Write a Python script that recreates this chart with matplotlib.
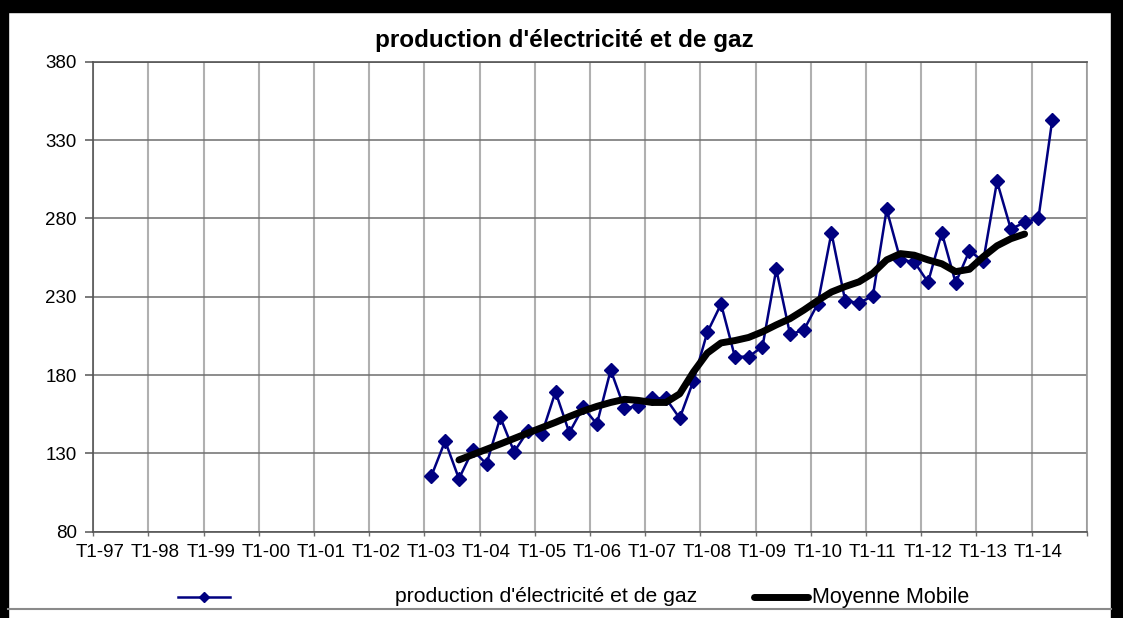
import matplotlib.pyplot as plt
from matplotlib.lines import Line2D
from matplotlib.patches import Rectangle

# axe trimestriel T1-97 ... T4-14
years = ["97", "98", "99", "00", "01", "02", "03", "04", "05", "06",
         "07", "08", "09", "10", "11", "12", "13", "14"]
tick_labels = ["T1-" + y for y in years]
n_quarters = 4 * len(years)

# production d'electricite et de gaz, a partir de T1-03 (indice 24)
prod_start = 24
production = [115.5, 137.9, 113.8, 132.1, 123.2, 153.0, 131.0, 144.3,
              142.2, 169.3, 143.2, 159.4, 148.7, 183.2, 158.7, 160.4,
              165.1, 165.1, 152.4, 176.4, 207.2, 225.3, 191.7, 191.7,
              198.1, 247.5, 206.0, 208.7, 225.3, 270.8, 227.2, 226.1,
              230.4, 285.7, 253.4, 252.3, 239.2, 270.8, 238.9, 259.3,
              252.6, 303.6, 273.2, 277.4, 280.0, 342.7]

# moyenne mobile, a partir de T3-03 (indice 26)
ma_start = 26
moyenne_mobile = [125.8, 129.2, 132.6, 136.0, 139.5, 143.0, 146.4, 149.8,
                  153.5, 157.0, 160.0, 162.5, 164.5, 163.8, 162.5, 162.5,
                  168.0, 182.0, 194.0, 200.5, 202.0, 204.0, 207.6, 212.0,
                  216.0, 221.5, 227.5, 233.0, 236.5, 239.5, 245.0, 253.5,
                  257.5, 256.5, 253.5, 251.0, 246.0, 247.5, 255.5, 262.5,
                  267.0, 270.0]

W, H = 1123, 618
blue = "#000080"
font = "Liberation Sans"

fig = plt.figure(figsize=(W / 100, H / 100), dpi=100, facecolor="white")

# cadre noir autour du graphique
for x0, y0, w, h in [(0, 0, 8, H), (0, H - 12, W, 12), (W - 12, 0, 12, H)]:
    fig.patches.append(Rectangle((x0 / W, y0 / H), w / W, h / H,
                                 transform=fig.transFigure, color="black", zorder=0))
fig.lines.append(Line2D([8 / W, (W - 12) / W], [(H - 609) / H] * 2,
                        transform=fig.transFigure, color="#8a8a8a", lw=1.5))

left, right, top, bottom = 93.3, 1086.7, 61.7, 531.7
ax = fig.add_axes([left / W, (H - bottom) / H, (right - left) / W, (bottom - top) / H])

x_prod = list(range(prod_start, prod_start + len(production)))
x_ma = list(range(ma_start, ma_start + len(moyenne_mobile)))

ax.plot(x_prod, production, color=blue, lw=1.8, marker="D", ms=7,
        mec=blue, mfc=blue, zorder=3)
ax.plot(x_ma, moyenne_mobile, color="black", lw=5, solid_capstyle="round",
        solid_joinstyle="round", zorder=4)

ax.set_xlim(-0.5, n_quarters - 0.5)
ax.set_ylim(80, 380)
ax.set_yticks(range(80, 381, 50))
ax.set_xticks(range(0, n_quarters, 4))
ax.set_xticklabels(tick_labels)
ax.set_xticks([k - 0.5 for k in range(0, n_quarters + 1, 4)], minor=True)

ax.grid(axis="y", color="#6e6e6e", lw=1.1)
ax.grid(axis="x", which="minor", color="#b0b0b0", lw=1.5)
ax.grid(axis="x", which="major", visible=False)
ax.set_axisbelow(True)

ax.tick_params(axis="x", which="major", length=0, pad=9)
ax.tick_params(axis="x", which="minor", length=3, color="#6e6e6e", width=1)
ax.tick_params(axis="y", length=6, color="#555555", width=1.1, pad=6)
for lab in ax.get_xticklabels() + ax.get_yticklabels():
    lab.set_fontfamily(font)
    lab.set_fontsize(13.5)

for s in ["left", "bottom", "top"]:
    ax.spines[s].set_color("#555555")
    ax.spines[s].set_linewidth(1.2)
ax.spines["right"].set_color("#9a9a9a")
ax.spines["right"].set_linewidth(1.2)

fig.text(564 / W, 1 - 40 / H, "production d'électricité et de gaz", ha="center",
         va="center", fontsize=17.5, fontweight="bold", family=font)

# legende
ly = 1 - 597 / H
fig.lines.append(Line2D([178 / W, 230 / W], [ly, ly], transform=fig.transFigure,
                        color=blue, lw=1.8))
fig.lines.append(Line2D([204 / W], [ly], transform=fig.transFigure, color=blue,
                        marker="D", ms=5.5))
fig.text(395 / W, ly, "production d'électricité et de gaz", ha="left", va="center",
         fontsize=15.2, family=font)
fig.lines.append(Line2D([754 / W, 808 / W], [ly, ly], transform=fig.transFigure,
                        color="black", lw=5, solid_capstyle="round"))
fig.text(812 / W, ly, "Moyenne Mobile", ha="left", va="center",
         fontsize=15.5, family=font)

fig.savefig("out.png", dpi=100, facecolor=fig.get_facecolor())
